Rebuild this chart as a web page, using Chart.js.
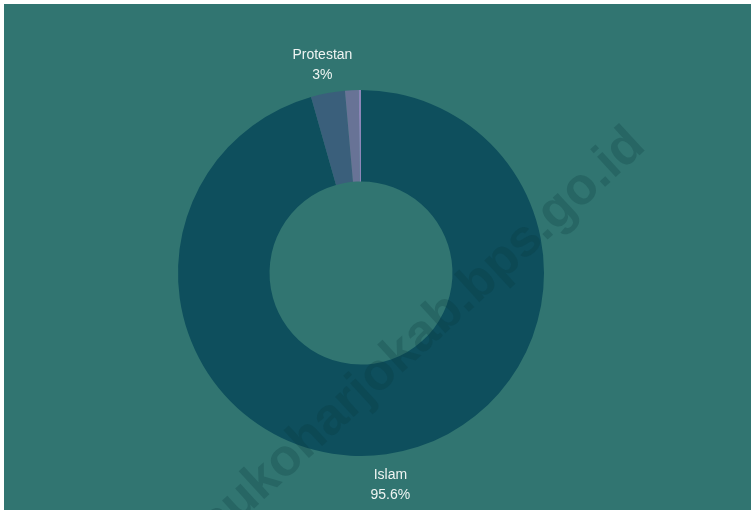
<!DOCTYPE html>
<html>
<head>
<meta charset="utf-8">
<script src="https://cdn.jsdelivr.net/npm/chart.js@4"></script>
<style>
  html, body { margin: 0; padding: 0; background: #ffffff; }
  #wrap { position: absolute; left: 4px; top: 4px; width: 747px; height: 506px; background: #317571; }
</style>
</head>
<body>
<div id="wrap"><canvas id="chart"></canvas></div>
<script>
var labels = ["Islam", "Protestan", "Katolik", "Hindu"];
var values = [95.6, 3, 1.2, 0.2];
var colors = ["#0e4f5d", "#3a5f7b", "#687396", "#8d86b8"];
var watermark = "https://sukoharjokab.bps.go.id";

var outsideLabels = {
    id: "outsideLabels",
    afterDatasetsDraw(chart) {
        var ctx = chart.ctx;
        var meta = chart.getDatasetMeta(0);
        ctx.save();
        ctx.font = "14px 'Liberation Sans', Arial, sans-serif";
        ctx.fillStyle = "#eef4f2";
        ctx.textAlign = "center";
        ctx.textBaseline = "middle";
        meta.data.forEach((arc, i) => {
            if (values[i] < 2) return;
            var p = arc.getProps(["x", "y", "startAngle", "endAngle", "outerRadius"], true);
            var mid = (p.startAngle + p.endAngle) / 2;
            var r = p.outerRadius + 30;
            var x = p.x + Math.cos(mid) * r;
            var y = p.y + Math.sin(mid) * r + 1.5;
            ctx.fillText(labels[i], x, y - 10);
            ctx.fillText(values[i] + "%", x, y + 10);
        });
        ctx.restore();
    },
    afterDraw(chart) {
        var ctx = chart.ctx;
        ctx.save();
        ctx.translate(631, 131);
        ctx.rotate(-42.5 * Math.PI / 180);
        ctx.font = "bold 52px 'Liberation Sans', Arial, sans-serif";
        ctx.fillStyle = "rgba(10, 55, 60, 0.24)";
        ctx.textAlign = "right";
        ctx.textBaseline = "alphabetic";
        ctx.fillText(watermark, 0, 18);
        ctx.restore();
    }
};

new Chart(document.getElementById("chart"), {
    type: "doughnut",
    data: {
        labels: labels,
        datasets: [{
            data: values,
            backgroundColor: colors,
            borderWidth: 0,
            hoverOffset: 0
        }]
    },
    options: {
        responsive: true,
        maintainAspectRatio: false,
        animation: false,
        cutout: "50%",
        layout: { padding: { top: 86, bottom: 54, left: 0, right: 33 } },
        plugins: {
            legend: { display: false },
            tooltip: { enabled: false }
        }
    },
    plugins: [outsideLabels]
});
</script>
</body>
</html>
